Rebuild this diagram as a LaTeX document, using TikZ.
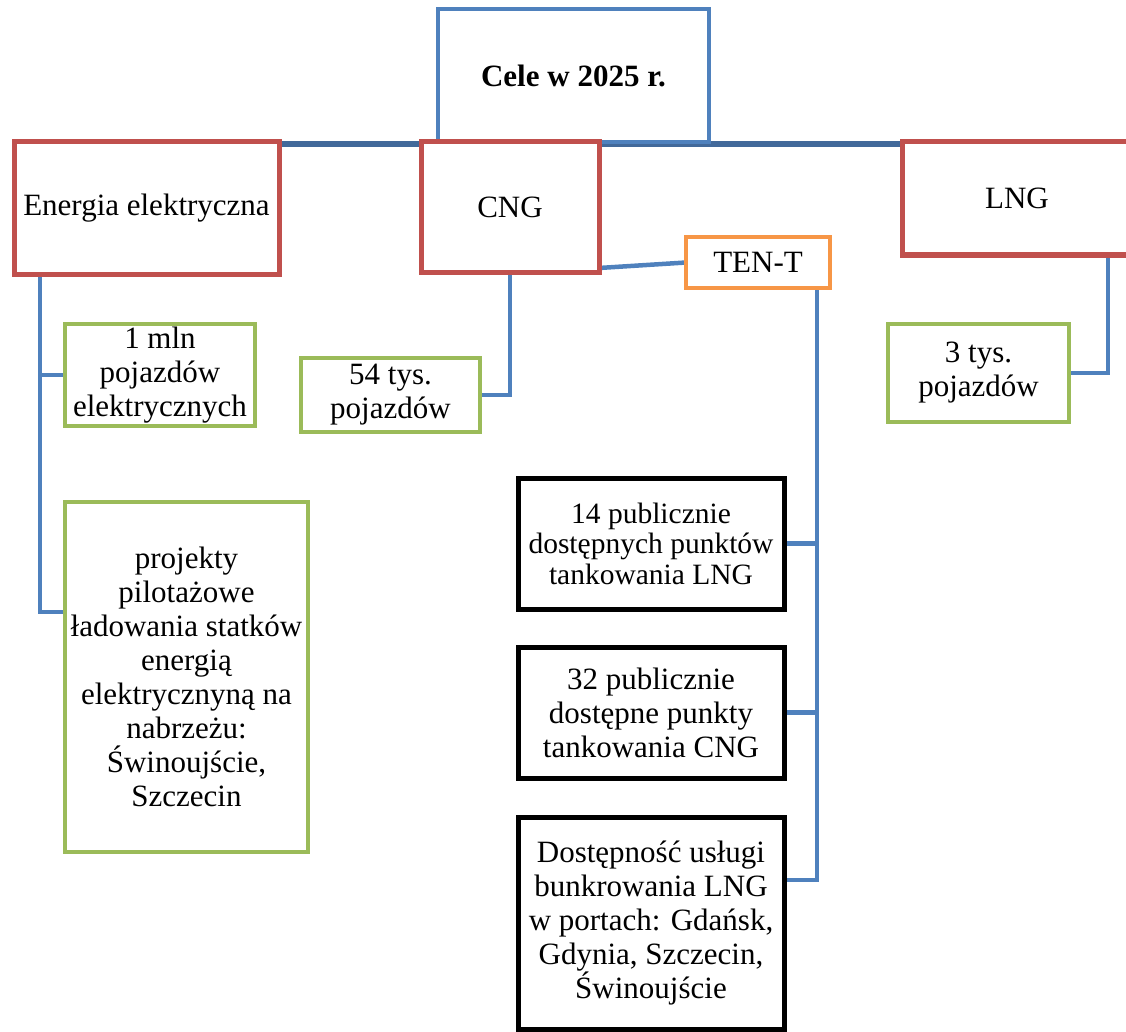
\documentclass[tikz,border=0pt]{standalone}
\usepackage{fontspec}
\setmainfont{Liberation Serif}
\usepackage{tikz}
\usetikzlibrary{positioning, backgrounds}

\definecolor{linkblue}{HTML}{4F81BD}
\definecolor{busblue}{HTML}{42699A}
\definecolor{catred}{HTML}{C0504D}
\definecolor{goalgreen}{HTML}{9BBB59}
\definecolor{tenorange}{HTML}{F79646}

\begin{document}
\begin{tikzpicture}[x=1pt, y=-1pt,
    box/.style={draw, rectangle, fill=white, align=center, inner sep=2pt, outer sep=0pt,
                font=\fontsize{31}{34}\selectfont},
    rootbox/.style={box, draw=linkblue, line width=3.5pt},
    catbox/.style={box, draw=catred, line width=5pt},
    tenbox/.style={box, draw=tenorange, line width=4.5pt},
    goalbox/.style={box, draw=goalgreen, line width=4.5pt},
    pointbox/.style={box, draw=black, line width=5pt},
    link/.style={draw=linkblue, line width=4.5pt}]
    \useasboundingbox (0,0) rectangle (1126,1032);

    % Root node
    \node[rootbox, minimum width=271, minimum height=133] (cele) at (573.5,75.5) {\textbf{Cele w 2025 r.}};

    % Fuel categories
    \node[catbox, minimum width=265, minimum height=132] (energia) at (146.5,208) {Energia elektryczna};
    \node[catbox, minimum width=178, minimum height=130] (cng) at (510,207) {CNG};
    \node[catbox, minimum width=230, minimum height=113] (lng) at (1017,198.5) {LNG};
    \node[tenbox, minimum width=144, minimum height=51] (tent) at (758,262.5) {TEN-T};

    % Vehicle targets
    \node[goalbox, minimum width=190, minimum height=102] (mln) at (160,375) {1 mln\\pojazdów\\elektrycznych};
    \node[goalbox, minimum width=179, minimum height=74] (tys54) at (390.5,395) {54 tys.\\pojazdów};
    \node[goalbox, minimum width=181, minimum height=98] (tys3) at (978.5,373) {3 tys.\\pojazdów};
    \node[goalbox, minimum width=243, minimum height=350] (pilot) at (186.5,677)
        {projekty\\pilotażowe\\ładowania statków\\energią\\elektrycznyną na\\nabrzeżu:\\Świnoujście,\\Szczecin};

    % TEN-T points
    \node[pointbox, minimum width=266, minimum height=131, font=\fontsize{29.5}{30.5}\selectfont] (pkt14) at (651,543.5)
        {14 publicznie\\dostępnych punktów\\tankowania LNG};
    \node[pointbox, minimum width=266, minimum height=131] (pkt32) at (651,712.5)
        {32 publicznie\\dostępne punkty\\tankowania CNG};
    \node[pointbox, minimum width=266, minimum height=212] (bunk) at (651,923)
        {Dostępność usługi\\bunkrowania LNG\\w portach: Gdańsk,\\Gdynia, Szczecin,\\Świnoujście};

    % Connectors
    \begin{scope}[on background layer]
        \draw[link, draw=busblue, line width=5.5pt] ([yshift=-2]energia.north east) -- ([yshift=-2]lng.north west);
        \draw[link] ([xshift=26]energia.south west) |- (mln.west);
        \draw[link] ([xshift=26]energia.south west) |- ([yshift=65]pilot.west);
        \draw[link] (cng.south) |- (tys54.east);
        \draw[link] ([yshift=4]cng.south east) -- (tent.west);
        \foreach \t/\dy in {pkt14/0, pkt32/0, bunk/43}
            \draw[link] ([xshift=-13]tent.south east) |- ([yshift=\dy]\t.east);
        \draw[link] ([xshift=91]lng.south) |- (tys3.east);
    \end{scope}
\end{tikzpicture}
\end{document}
